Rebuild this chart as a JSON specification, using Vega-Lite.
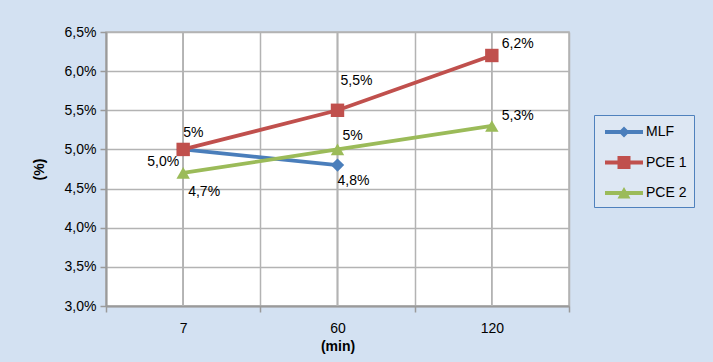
{
  "$schema": "https://vega.github.io/schema/vega-lite/v6.json",
  "autosize": "none",
  "width": 463,
  "height": 274,
  "padding": {"left": 106, "top": 32, "right": 144, "bottom": 56},
  "background": "#d3e1f2",
  "config": {
    "font": "Liberation Sans",
    "view": {"fill": "white", "stroke": "#b3b3b3", "strokeWidth": 1.5},
    "axis": {
      "labelFont": "Liberation Sans",
      "labelFontSize": 14,
      "labelColor": "#000000",
      "titleFont": "Liberation Sans",
      "titleFontSize": 14,
      "titleFontWeight": "bold",
      "titleColor": "#000000",
      "gridColor": "#b3b3b3",
      "gridWidth": 1.5,
      "gridOpacity": 1,
      "domainColor": "#9a9a9a",
      "domainWidth": 2,
      "tickColor": "#9a9a9a",
      "tickWidth": 1.5,
      "tickSize": 6
    }
  },
  "data": {
    "values": [
      {"t": "7", "series": "MLF", "value": 5.0, "label": "5,0%"},
      {"t": "60", "series": "MLF", "value": 4.8, "label": "4,8%"},
      {"t": "7", "series": "PCE 1", "value": 5.0, "label": "5%"},
      {"t": "60", "series": "PCE 1", "value": 5.5, "label": "5,5%"},
      {"t": "120", "series": "PCE 1", "value": 6.2, "label": "6,2%"},
      {"t": "7", "series": "PCE 2", "value": 4.7, "label": "4,7%"},
      {"t": "60", "series": "PCE 2", "value": 5.0, "label": "5%"},
      {"t": "120", "series": "PCE 2", "value": 5.3, "label": "5,3%"}
    ]
  },
  "encoding": {
    "x": {
      "field": "t",
      "type": "ordinal",
      "sort": ["7", "60", "120"],
      "scale": {"type": "band", "domain": ["7", "60", "120"], "paddingInner": 0, "paddingOuter": 0},
      "axis": {"title": "(min)", "labelAngle": 0, "tickBand": "extent", "grid": true, "labelPadding": 9, "titlePadding": 4}
    },
    "y": {
      "field": "value",
      "type": "quantitative",
      "scale": {"domain": [3, 6.5], "nice": false, "zero": false},
      "axis": {
        "title": "(%)",
        "values": [3, 3.5, 4, 4.5, 5, 5.5, 6, 6.5],
        "labelExpr": "replace(format(datum.value, '.1f'), '.', ',') + '%'",
        "labelPadding": 4,
        "titlePadding": 18
      }
    }
  },
  "layer": [
    {
      "mark": {"type": "rule", "color": "#b3b3b3", "strokeWidth": 1.5},
      "encoding": {"y": null}
    },
    {
      "mark": {"type": "line", "strokeWidth": 3.8},
      "encoding": {
        "color": {
          "field": "series",
          "type": "nominal",
          "scale": {"domain": ["MLF", "PCE 1", "PCE 2"], "range": ["#4a7ebb", "#c0504d", "#9bbb59"]},
          "legend": null
        }
      }
    },
    {
      "mark": {"type": "point", "filled": true, "opacity": 1, "size": 180, "strokeWidth": 0},
      "encoding": {
        "color": {
          "field": "series",
          "type": "nominal",
          "scale": {"domain": ["MLF", "PCE 1", "PCE 2"], "range": ["#4a7ebb", "#c0504d", "#9bbb59"]},
          "legend": null
        },
        "shape": {
          "field": "series",
          "type": "nominal",
          "scale": {"domain": ["MLF", "PCE 1", "PCE 2"], "range": ["diamond", "square", "triangle-up"]},
          "legend": null
        }
      }
    },
    {
      "mark": {"type": "point", "filled": true, "opacity": 0, "size": 400, "strokeWidth": 0},
      "encoding": {
        "color": {
          "field": "series",
          "type": "nominal",
          "scale": {"domain": ["MLF", "PCE 1", "PCE 2"], "range": ["#4a7ebb", "#c0504d", "#9bbb59"]},
          "legend": {
            "title": null,
            "orient": "none",
            "legendX": 488,
            "legendY": 83,
            "padding": 7,
            "strokeColor": "#4f81bd",
            "fillColor": "#dde7f3",
            "labelFontSize": 14,
            "labelFont": "Liberation Sans",
            "labelColor": "#000000",
            "labelOffset": 25,
            "symbolSize": 400,
            "symbolOpacity": 1,
            "symbolStrokeWidth": 0,
            "rowPadding": 13.5
          }
        },
        "shape": {
          "field": "series",
          "type": "nominal",
          "scale": {
            "domain": ["MLF", "PCE 1", "PCE 2"],
            "range": [
              "M-0.6,-0.19H3.2V0.19H-0.6Z M1.3,-0.55L1.85,0L1.3,0.55L0.75,0Z",
              "M-0.6,-0.19H3.2V0.19H-0.6Z M0.65,-0.65H1.95V0.65H0.65Z",
              "M-0.6,-0.19H3.2V0.19H-0.6Z M1.3,-0.6L1.95,0.55L0.65,0.55Z"
            ]
          },
          "legend": {
            "title": null,
            "orient": "none",
            "legendX": 488,
            "legendY": 83,
            "padding": 7,
            "strokeColor": "#4f81bd",
            "fillColor": "#dde7f3",
            "labelFontSize": 14,
            "labelFont": "Liberation Sans",
            "labelColor": "#000000",
            "labelOffset": 25,
            "symbolSize": 400,
            "symbolOpacity": 1,
            "symbolStrokeWidth": 0,
            "rowPadding": 13.5
          }
        }
      }
    },
    {
      "transform": [{"filter": "datum.series == 'MLF' && datum.t == '7'"}],
      "mark": {"type": "text", "align": "right", "baseline": "middle", "dx": -4, "dy": 13, "fontSize": 14, "color": "#000000"},
      "encoding": {"text": {"field": "label"}}
    },
    {
      "transform": [{"filter": "datum.series == 'MLF' && datum.t == '60'"}],
      "mark": {"type": "text", "align": "left", "baseline": "middle", "dx": 0, "dy": 16, "fontSize": 14, "color": "#000000"},
      "encoding": {"text": {"field": "label"}}
    },
    {
      "transform": [{"filter": "datum.series == 'PCE 1' && datum.t == '7'"}],
      "mark": {"type": "text", "align": "left", "baseline": "middle", "dx": 0, "dy": -16, "fontSize": 14, "color": "#000000"},
      "encoding": {"text": {"field": "label"}}
    },
    {
      "transform": [{"filter": "datum.series == 'PCE 1' && datum.t == '60'"}],
      "mark": {"type": "text", "align": "left", "baseline": "middle", "dx": 3, "dy": -29, "fontSize": 14, "color": "#000000"},
      "encoding": {"text": {"field": "label"}}
    },
    {
      "transform": [{"filter": "datum.series == 'PCE 1' && datum.t == '120'"}],
      "mark": {"type": "text", "align": "left", "baseline": "middle", "dx": 10, "dy": -11, "fontSize": 14, "color": "#000000"},
      "encoding": {"text": {"field": "label"}}
    },
    {
      "transform": [{"filter": "datum.series == 'PCE 2' && datum.t == '7'"}],
      "mark": {"type": "text", "align": "left", "baseline": "middle", "dx": 5, "dy": 19, "fontSize": 14, "color": "#000000"},
      "encoding": {"text": {"field": "label"}}
    },
    {
      "transform": [{"filter": "datum.series == 'PCE 2' && datum.t == '60'"}],
      "mark": {"type": "text", "align": "left", "baseline": "middle", "dx": 5, "dy": -13, "fontSize": 14, "color": "#000000"},
      "encoding": {"text": {"field": "label"}}
    },
    {
      "transform": [{"filter": "datum.series == 'PCE 2' && datum.t == '120'"}],
      "mark": {"type": "text", "align": "left", "baseline": "middle", "dx": 10, "dy": -10, "fontSize": 14, "color": "#000000"},
      "encoding": {"text": {"field": "label"}}
    }
  ],
  "resolve": {"scale": {"shape": "independent", "color": "independent"}}
}
